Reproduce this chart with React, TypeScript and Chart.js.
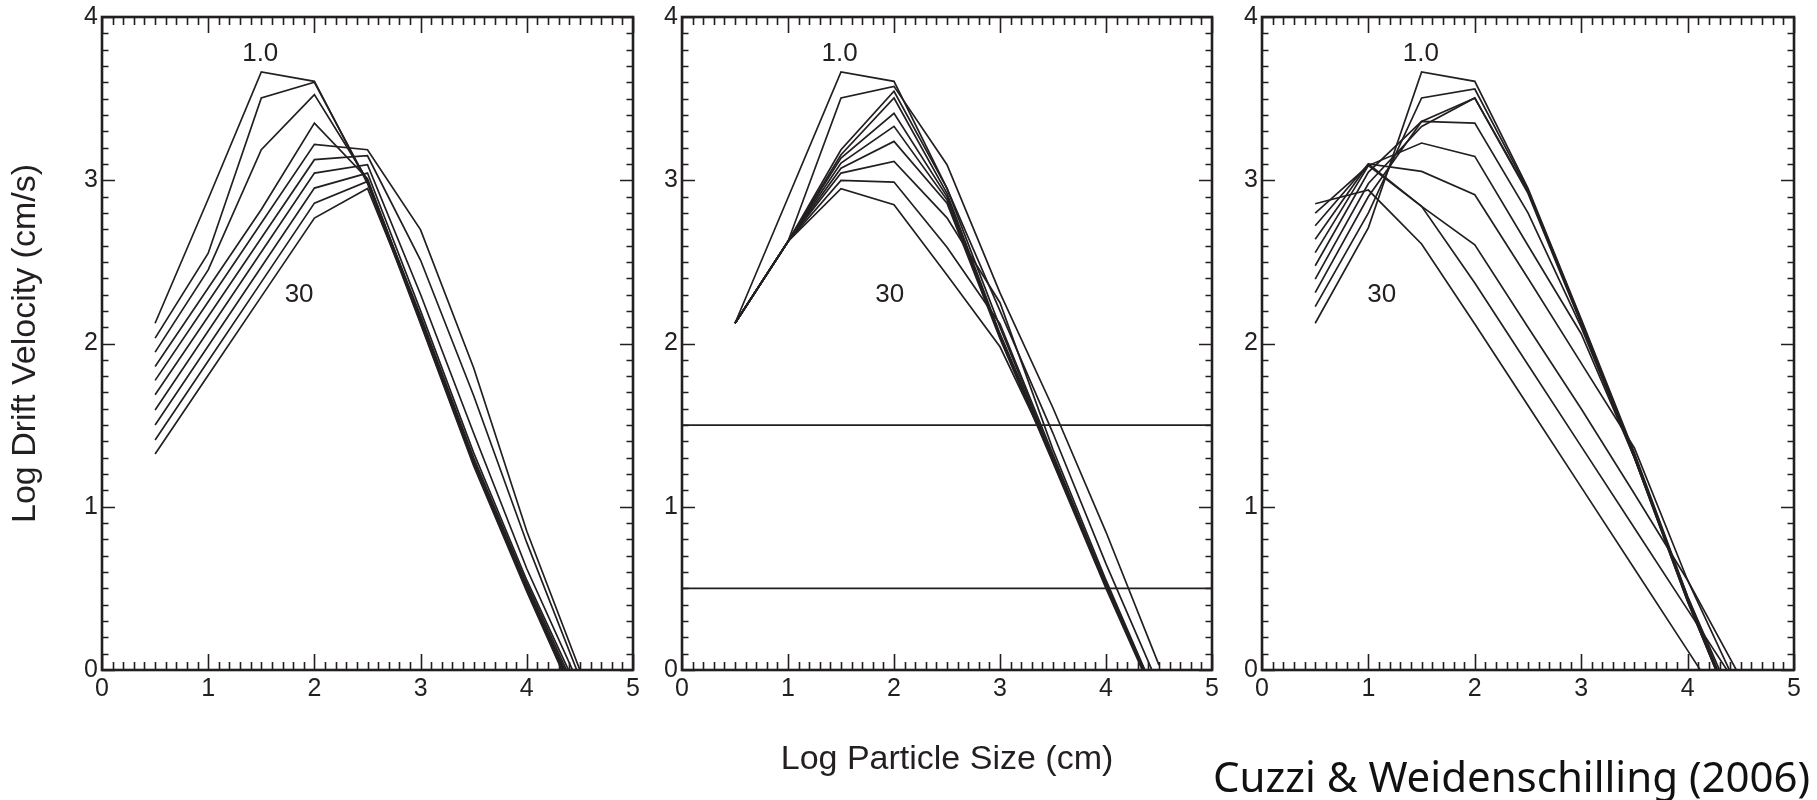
import React, { useEffect, useRef } from 'react';
import { Chart, registerables } from 'chart.js';

Chart.register(...registerables);

// ---------- data ----------
const X_VALUES = [0.5, 1, 1.5, 2, 2.5, 3, 3.5, 4, 4.5];

// Panel 1 curves (top "1.0" ... bottom "30")
const PANEL1_CURVES = [
  [2.124, 2.885, 3.663, 3.606, 2.98, 2.12, 1.25, 0.48, -0.25],
  [2.033, 2.553, 3.504, 3.6, 2.99, 2.13, 1.26, 0.49, -0.24],
  [1.947, 2.451, 3.187, 3.525, 3.0, 2.14, 1.27, 0.5, -0.23],
  [1.859, 2.34, 2.821, 3.35, 3.01, 2.15, 1.28, 0.51, -0.22],
  [1.774, 2.256, 2.738, 3.22, 3.187, 2.696, 1.85, 0.85, 0.0],
  [1.686, 2.166, 2.646, 3.126, 3.15, 2.51, 1.68, 0.78, -0.05],
  [1.593, 2.077, 2.56, 3.044, 3.095, 2.3, 1.45, 0.62, -0.1],
  [1.501, 1.985, 2.469, 2.952, 3.044, 2.2, 1.33, 0.55, -0.15],
  [1.409, 1.893, 2.376, 2.86, 2.993, 2.17, 1.3, 0.53, -0.18],
  [1.323, 1.805, 2.287, 2.768, 2.95, 2.15, 1.28, 0.51, -0.2],
];

// Panel 2 curves
const PANEL2_CURVES = [
  [2.124, 2.893, 3.663, 3.606, 2.95, 2.1, 1.3, 0.52, -0.2],
  [2.124, 2.625, 3.504, 3.575, 3.095, 2.31, 1.605, 0.845, 0.03],
  [2.124, 2.625, 3.187, 3.545, 2.95, 2.2, 1.45, 0.65, -0.1],
  [2.124, 2.625, 3.156, 3.504, 2.92, 2.06, 1.3, 0.53, -0.2],
  [2.124, 2.625, 3.136, 3.41, 2.9, 2.05, 1.29, 0.52, -0.21],
  [2.124, 2.625, 3.105, 3.33, 2.88, 2.04, 1.28, 0.51, -0.22],
  [2.124, 2.625, 3.074, 3.238, 2.86, 2.03, 1.27, 0.5, -0.23],
  [2.124, 2.625, 3.044, 3.115, 2.77, 2.25, 1.35, 0.55, -0.2],
  [2.124, 2.625, 2.999, 2.989, 2.59, 2.12, 1.32, 0.53, -0.22],
  [2.124, 2.625, 2.948, 2.85, 2.42, 1.98, 1.3, 0.52, -0.22],
];
const PANEL2_LEVELS = [1.5, 0.5];

// Panel 3 curves
const PANEL3_CURVES = [
  [2.124, 2.71, 3.663, 3.606, 2.95, 2.15, 1.33, 0.45, -0.35],
  [2.226, 2.8, 3.504, 3.559, 2.94, 2.14, 1.32, 0.44, -0.35],
  [2.312, 2.9, 3.36, 3.504, 2.93, 2.13, 1.31, 0.43, -0.36],
  [2.394, 2.98, 3.33, 3.504, 2.92, 2.12, 1.3, 0.42, -0.37],
  [2.476, 3.05, 3.36, 3.35, 2.8, 2.1, 1.3, 0.42, -0.37],
  [2.557, 3.09, 3.228, 3.146, 2.6, 2.06, 1.3, 0.45, -0.3],
  [2.639, 3.1, 3.054, 2.911, 2.4, 1.88, 1.36, 0.55, -0.05],
  [2.721, 3.1, 2.84, 2.604, 2.1, 1.6, 1.08, 0.55, -0.15],
  [2.799, 3.09, 2.84, 2.37, 1.87, 1.37, 0.87, 0.37, -0.13],
  [2.856, 2.94, 2.61, 2.12, 1.62, 1.12, 0.62, 0.12, -0.38],
];

const X_TICK_STEP = 1;
const Y_TICK_STEP = 1;
const MINOR_STEP = 0.1;

const LABELS_P1 = [
  { text: '1.0', x: 1.49, y: 3.773 },
  { text: '30', x: 1.856, y: 2.298 },
];
const LABELS_P2 = [
  { text: '1.0', x: 1.487, y: 3.773 },
  { text: '30', x: 1.959, y: 2.298 },
];
const LABELS_P3 = [
  { text: '1.0', x: 1.493, y: 3.773 },
  { text: '30', x: 1.125, y: 2.298 },
];

const X_TITLE = 'Log Particle Size (cm)';
const Y_TITLE = 'Log Drift Velocity (cm/s)';
const CREDIT = 'Cuzzi & Weidenschilling (2006)';

// ---------- style ----------
const INK = '#231f20';
const FONT = '"Liberation Sans", Arial, Helvetica, sans-serif';

const frameTicks = {
  id: 'frameTicks',
  afterDraw(chart: any, _args: any, opts: any) {
    const { ctx, chartArea: a, scales } = chart;
    const xs = scales.x;
    const ys = scales.y;
    ctx.save();
    ctx.strokeStyle = INK;
    ctx.lineWidth = 1.6;
    ctx.beginPath();
    const nx = Math.round((xs.max - xs.min) / MINOR_STEP);
    for (let i = 0; i <= nx; i++) {
      const v = xs.min + i * MINOR_STEP;
      const px = Math.round(xs.getPixelForValue(v)) + 0.5;
      const len = i % 10 === 0 ? 16 : 8;
      ctx.moveTo(px, a.bottom);
      ctx.lineTo(px, a.bottom - len);
      ctx.moveTo(px, a.top);
      ctx.lineTo(px, a.top + len);
    }
    const ny = Math.round((ys.max - ys.min) / MINOR_STEP);
    for (let i = 0; i <= ny; i++) {
      const v = ys.min + i * MINOR_STEP;
      const py = Math.round(ys.getPixelForValue(v)) + 0.5;
      const len = i % 10 === 0 ? 13 : 6.5;
      ctx.moveTo(a.left, py);
      ctx.lineTo(a.left + len, py);
      ctx.moveTo(a.right, py);
      ctx.lineTo(a.right - len, py);
    }
    ctx.stroke();
    ctx.lineWidth = 2.6;
    ctx.strokeRect(a.left, a.top, a.right - a.left, a.bottom - a.top);
    ctx.fillStyle = INK;
    ctx.font = '26px ' + FONT;
    ctx.textAlign = 'center';
    ctx.textBaseline = 'middle';
    for (const lab of opts.labels || []) {
      ctx.fillText(lab.text, xs.getPixelForValue(lab.x), ys.getPixelForValue(lab.y));
    }
    ctx.restore();
  },
};

function buildConfig(
  curves: number[][],
  levels: number[],
  labels: any[],
  yAxisWidth: number,
  showXTitle: boolean,
  showYTitle: boolean
): any {
  const datasets: any[] = curves.map((c) => ({
    data: X_VALUES.map((x, i) => ({ x, y: c[i] })),
    borderColor: INK,
    borderWidth: 1.7,
    pointRadius: 0,
    tension: 0,
    fill: false,
  }));
  levels.forEach((lv) => {
    datasets.push({
      data: [
        { x: 0, y: lv },
        { x: 5, y: lv },
      ],
      borderColor: INK,
      borderWidth: 1.7,
      pointRadius: 0,
      fill: false,
    });
  });
  return {
    type: 'line',
    data: { datasets },
    plugins: [frameTicks],
    options: {
      animation: false,
      responsive: false,
      devicePixelRatio: 1,
      layout: { padding: { top: 17, right: 10, left: 0, bottom: 0 } },
      plugins: {
        legend: { display: false },
        tooltip: { enabled: false },
        frameTicks: { labels },
      },
      scales: {
        x: {
          type: 'linear',
          min: 0,
          max: 5,
          position: 'bottom',
          grid: { display: false, drawTicks: false },
          border: { display: false },
          ticks: {
            stepSize: X_TICK_STEP,
            padding: 4,
            color: INK,
            maxRotation: 0,
            autoSkip: false,
            font: { size: 25, family: FONT },
          },
          title: {
            display: showXTitle,
            text: X_TITLE,
            color: INK,
            font: { size: 34, family: FONT },
            padding: { top: 0, bottom: 20 },
          },
          afterFit(scale: any) {
            scale.height = 130;
            scale.paddingLeft = 0;
            scale.paddingRight = 0;
            scale.paddingTop = 0;
            scale.paddingBottom = 0;
          },
        },
        y: {
          type: 'linear',
          min: 0,
          max: 4,
          position: 'left',
          grid: { display: false, drawTicks: false },
          border: { display: false },
          ticks: {
            stepSize: Y_TICK_STEP,
            padding: 4,
            color: INK,
            autoSkip: false,
            font: { size: 25, family: FONT },
          },
          title: {
            display: showYTitle,
            text: Y_TITLE,
            color: INK,
            font: { size: 34, family: FONT },
            padding: { top: 5, bottom: 0 },
          },
          afterFit(scale: any) {
            scale.width = yAxisWidth;
            scale.paddingLeft = 0;
            scale.paddingRight = 0;
            scale.paddingTop = 0;
            scale.paddingBottom = 0;
          },
        },
      },
    },
  };
}

function Panel(props: {
  left: number;
  width: number;
  curves: number[][];
  levels: number[];
  labels: any[];
  yAxisWidth: number;
  showXTitle: boolean;
  showYTitle: boolean;
}) {
  const ref = useRef<HTMLCanvasElement | null>(null);
  useEffect(() => {
    if (!ref.current) return;
    const chart = new Chart(
      ref.current,
      buildConfig(props.curves, props.levels, props.labels, props.yAxisWidth, props.showXTitle, props.showYTitle)
    );
    return () => chart.destroy();
  }, []);
  return (
    <canvas
      ref={ref}
      width={props.width}
      height={800}
      style={{ position: 'absolute', left: props.left, top: 0, width: props.width, height: 800 }}
    />
  );
}

export default function App() {
  return (
    <div
      style={{
        position: 'absolute',
        left: 0,
        top: 0,
        width: 1817,
        height: 800,
        background: '#fff',
        overflow: 'hidden',
      }}
    >
      <Panel left={0} width={643} curves={PANEL1_CURVES} levels={[]} labels={LABELS_P1} yAxisWidth={102} showXTitle={false} showYTitle={true} />
      <Panel left={622} width={600} curves={PANEL2_CURVES} levels={PANEL2_LEVELS} labels={LABELS_P2} yAxisWidth={60} showXTitle={true} showYTitle={false} />
      <Panel left={1202} width={602} curves={PANEL3_CURVES} levels={[]} labels={LABELS_P3} yAxisWidth={60} showXTitle={false} showYTitle={false} />
      <div
        style={{
          position: 'absolute',
          left: 1213,
          top: 750,
          fontFamily: '"Noto Sans", "Open Sans", sans-serif',
          fontSize: 42,
          lineHeight: '52px',
          color: '#111',
          whiteSpace: 'nowrap',
        }}
      >
        {CREDIT}
      </div>
    </div>
  );
}
